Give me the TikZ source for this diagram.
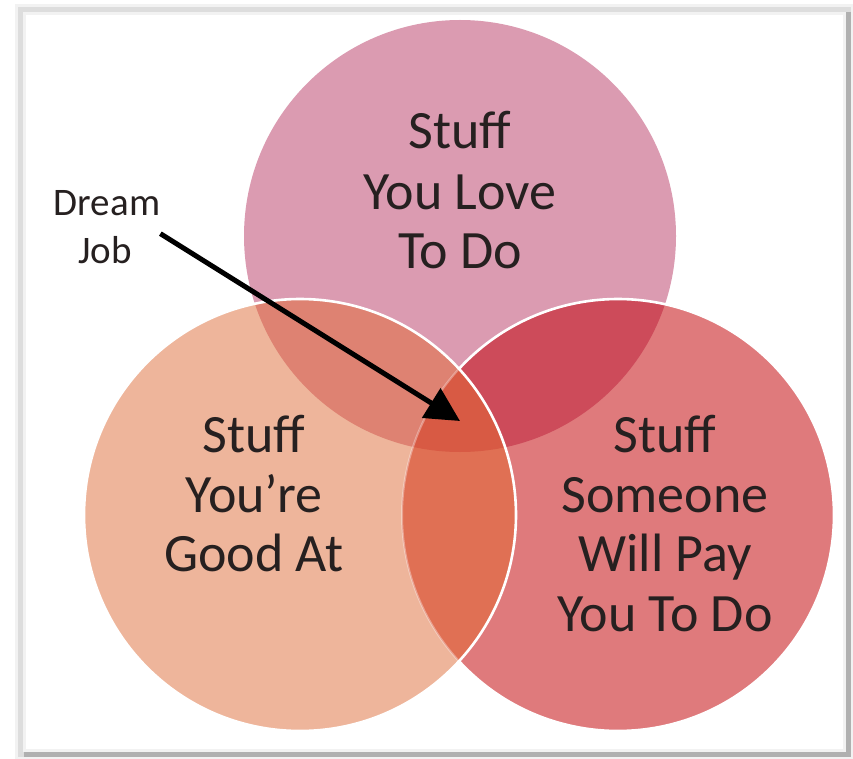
\documentclass[tikz,border=0pt]{standalone}
\usepackage{fontspec}
\setmainfont{Carlito}
\usetikzlibrary{arrows.meta}
\definecolor{cTop}{RGB}{219,155,177}
\definecolor{cLeft}{RGB}{238,181,155}
\definecolor{cRight}{RGB}{223,122,124}
\definecolor{cTL}{RGB}{222,130,114}
\definecolor{cTR}{RGB}{205,75,90}
\definecolor{cLR}{RGB}{224,112,84}
\definecolor{cAll}{RGB}{216,90,68}
\definecolor{cText}{RGB}{38,32,32}
\definecolor{frameLight}{RGB}{242,242,242}
\definecolor{frameMid}{RGB}{221,221,221}
\definecolor{frameDark}{RGB}{176,176,176}
\tikzset{
  bigtext/.style={font=\fontsize{54}{60}\selectfont, text=cText, inner sep=0pt, anchor=base},
  smalltext/.style={font=\fontsize{39}{48}\selectfont, text=cText, inner sep=0pt, anchor=base},
  outline/.style={draw=white, line width=2.6pt},
}
\begin{document}
\begin{tikzpicture}[x=1pt,y=-1pt]
\useasboundingbox (0,0) rectangle (853,759);
\fill[white] (0,0) rectangle (853,759);
% frame
\draw[frameLight, line width=11pt] (20,10) rectangle (848,754);
\draw[frameMid, line width=5pt] (20,10) rectangle (848,754);
\draw[frameDark, line width=5pt] (848,12) -- (848,754) -- (24,754);
\coordinate (tc) at (460,236);
\coordinate (lc) at (300,515);
\coordinate (rc) at (618,515);
% base fills
\fill[cTop] (tc) circle[radius=216pt];
\fill[cLeft] (lc) circle[radius=216pt];
\fill[cRight] (rc) circle[radius=216pt];
% pairwise overlaps
\begin{scope}
  \clip (tc) circle[radius=216pt];
  \fill[cTL] (lc) circle[radius=216pt];
  \fill[cTR] (rc) circle[radius=216pt];
\end{scope}
\begin{scope}
  \clip (lc) circle[radius=216pt];
  \fill[cLR] (rc) circle[radius=216pt];
  \clip (rc) circle[radius=216pt];
  \fill[cAll] (tc) circle[radius=216pt];
\end{scope}
% outlines
\draw[outline] (rc) ++(-137.4:216pt) arc[start angle=-137.4, end angle=137.4, radius=216pt];
\draw[white, opacity=0.35, line width=2pt] (rc) ++(137.4:216pt) arc[start angle=137.4, end angle=222.6, radius=216pt];
\draw[outline] (lc) circle[radius=216pt];
% texts
\node[bigtext] (t1) at (460,149) {Stuff};
\node[bigtext] (t2) at (460,210) {You Love};
\node[bigtext] (t3) at (460,269) {To Do};
\node[bigtext] (l1) at (254,452) {Stuff};
\node[bigtext] (l2) at (254,512) {You’re};
\node[bigtext] (l3) at (254,571) {Good At};
\node[bigtext] (r1) at (665,452) {Stuff};
\node[bigtext] (r2) at (665,512) {Someone};
\node[bigtext] (r3) at (665,571) {Will Pay};
\node[bigtext] (r4) at (665,631) {You To Do};
\node[smalltext] (d1) at (107,215) {Dream};
\node[smalltext] (d2) at (105,263) {Job};
\coordinate (tip) at (460,421);
\draw[black, line width=5pt, -{Triangle[length=34pt,width=34pt]}] ([yshift=-31pt]d1.east) -- (tip);
\end{tikzpicture}
\end{document}
